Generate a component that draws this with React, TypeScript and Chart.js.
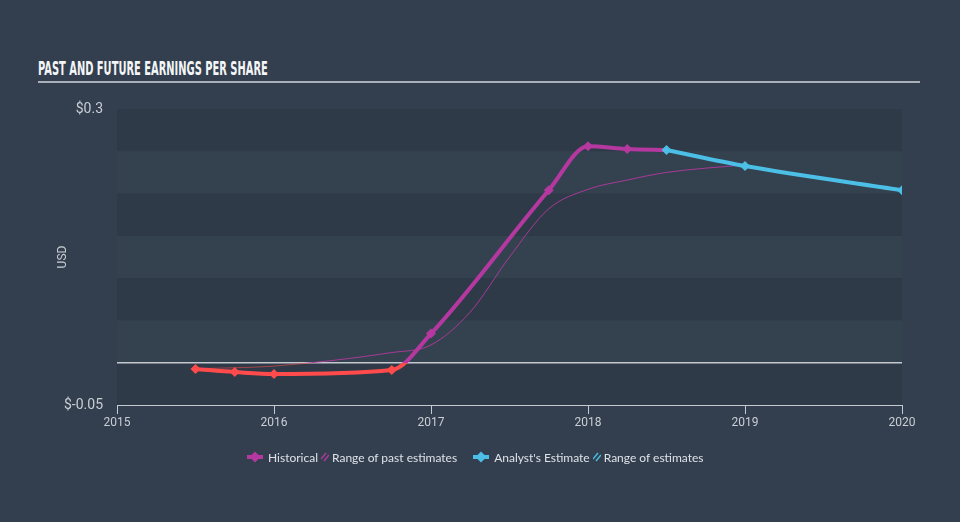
import React, { useEffect, useLayoutEffect, useRef } from 'react';
import { Chart, registerables } from 'chart.js';

Chart.register(...registerables);

// ---- data ----
const historicalX = [2015.5, 2015.75, 2016, 2016.75, 2017, 2017.75, 2018, 2018.25, 2018.5];
const historicalEPS = [-0.0075, -0.011, -0.0134, -0.0086, 0.0344, 0.204, 0.256, 0.2527, 0.2515];
const pastRangeX = [2015.5, 2015.75, 2016, 2016.75, 2017, 2017.25, 2017.5, 2017.75, 2018, 2018.25, 2018.5, 2019];
const pastRangeEPS = [-0.007, -0.006, -0.004, 0.012, 0.021, 0.06, 0.125, 0.182, 0.205, 0.216, 0.225, 0.234];
const estimateX = [2018.5, 2019, 2020];
const estimateEPS = [0.2515, 0.2325, 0.204];
const yearTicks = [2015, 2016, 2017, 2018, 2019, 2020];
const yTicks = [-0.05, 0, 0.05, 0.1, 0.15, 0.2, 0.25, 0.3];
const yMin = -0.05;
const yMax = 0.3;

// ---- styles ----
const PAGE_BG = '#333f4e';
const BAND_DARK = '#2e3a48';
const BAND_LIGHT = '#34414f';
const RED = '#ff4b4b';
const MAG = '#b4389f';
const MAG_THIN = 'rgba(180,56,159,0.9)';
const RED_THIN = 'rgba(255,75,75,0.55)';
const BLUE = '#4bbfe6';
const AXIS = '#c5cad1';
const TEXT = '#c9ced5';

function zeroGradient(chart: any, above: string, below: string) {
  const area = chart.chartArea;
  if (!area) return above;
  const y0 = chart.scales.y.getPixelForValue(0);
  const g = chart.ctx.createLinearGradient(0, area.top, 0, area.bottom);
  let stop = (y0 - area.top) / (area.bottom - area.top);
  stop = Math.max(0, Math.min(1, stop));
  g.addColorStop(0, above);
  g.addColorStop(stop, above);
  g.addColorStop(stop, below);
  g.addColorStop(1, below);
  return g;
}

const bandsPlugin = {
  id: 'bands',
  beforeDraw(chart: any) {
    const { ctx, chartArea, scales } = chart;
    if (!chartArea) return;
    const ys = scales.y;
    ctx.save();
    const sorted = [...yTicks].sort((a, b) => b - a);
    for (let i = 0; i < sorted.length - 1; i++) {
      const top = ys.getPixelForValue(sorted[i]);
      const bot = ys.getPixelForValue(sorted[i + 1]);
      ctx.fillStyle = i % 2 === 0 ? BAND_DARK : BAND_LIGHT;
      ctx.fillRect(chartArea.left, top, chartArea.right - chartArea.left, bot - top);
    }
    ctx.restore();
  },
};

function LineIcon({ color }: { color: string }) {
  return (
    <svg width="16" height="12" style={{ display: 'block', marginRight: 5 }}>
      <line x1="0" y1="6" x2="16" y2="6" stroke={color} strokeWidth="4" />
      <polygon points="8,0.5 13.5,6 8,11.5 2.5,6" fill={color} />
    </svg>
  );
}

function HatchIcon({ color }: { color: string }) {
  return (
    <svg width="8" height="10" style={{ display: 'block', margin: '0 3px' }}>
      <line x1="0" y1="7" x2="5" y2="1" stroke={color} strokeWidth="1.4" />
      <line x1="3" y1="9" x2="8" y2="3" stroke={color} strokeWidth="1.4" />
    </svg>
  );
}

export default function App() {
  const canvasRef = useRef<HTMLCanvasElement>(null);
  const titleRef = useRef<HTMLSpanElement>(null);

  useLayoutEffect(() => {
    const el = titleRef.current;
    if (!el) return;
    const w = el.offsetWidth;
    if (w > 0) el.style.transform = `scaleX(${230 / w})`;
  }, []);

  useEffect(() => {
    const canvas = canvasRef.current;
    if (!canvas) return;
    const lastHist = historicalX.length - 1;
    const chart = new Chart(canvas, {
      type: 'line',
      data: {
        datasets: [
          {
            label: "Analyst's Estimate",
            data: estimateX.map((x, i) => ({ x, y: estimateEPS[i] })),
            borderColor: BLUE,
            backgroundColor: BLUE,
            borderWidth: 4,
            pointStyle: 'rectRot',
            pointRadius: 5,
            pointBackgroundColor: BLUE,
            pointBorderWidth: 0,
            cubicInterpolationMode: 'monotone',
            order: 0,
          },
          {
            label: 'Historical',
            data: historicalX.map((x, i) => ({ x, y: historicalEPS[i] })),
            borderColor: (ctx: any) => zeroGradient(ctx.chart, MAG, RED),
            borderWidth: 4,
            pointStyle: 'rectRot',
            pointRadius: (ctx: any) => (ctx.dataIndex === lastHist ? 0 : 5),
            pointBackgroundColor: (ctx: any) => (ctx.raw && ctx.raw.y < 0 ? RED : MAG),
            pointBorderWidth: 0,
            cubicInterpolationMode: 'monotone',
            order: 1,
          },
          {
            label: 'Range of past estimates',
            data: pastRangeX.map((x, i) => ({ x, y: pastRangeEPS[i] })),
            borderColor: (ctx: any) => zeroGradient(ctx.chart, MAG_THIN, RED_THIN),
            borderWidth: 1,
            pointRadius: 0,
            cubicInterpolationMode: 'monotone',
            order: 2,
          },
        ],
      } as any,
      options: {
        animation: false,
        responsive: false,
        devicePixelRatio: 1,
        layout: { padding: { top: 109, right: 58, bottom: 87, left: 0 } },
        plugins: { legend: { display: false }, tooltip: { enabled: false } },
        scales: {
          x: {
            type: 'linear',
            min: 2015,
            max: 2020,
            afterBuildTicks: (s: any) => {
              s.ticks = yearTicks.map((v) => ({ value: v }));
            },
            ticks: {
              callback: (v: any) => String(v),
              color: TEXT,
              font: { family: 'Roboto', size: 12 },
              padding: 2,
              maxRotation: 0,
              autoSkip: false,
            },
            grid: { drawOnChartArea: false, drawTicks: true, tickLength: 9, color: AXIS, lineWidth: 1 },
            border: { display: true, color: AXIS, width: 1 },
            afterFit: (s: any) => {
              s.height = 30;
            },
          },
          y: {
            type: 'linear',
            min: yMin,
            max: yMax,
            afterBuildTicks: (s: any) => {
              s.ticks = yTicks.map((v) => ({ value: v }));
            },
            ticks: {
              callback: (v: any) => (v === yMax || v === yMin ? '$' + v : ''),
              color: TEXT,
              font: { family: 'Roboto', size: 14 },
              padding: 14,
              autoSkip: false,
            },
            grid: {
              drawTicks: false,
              color: (ctx: any) => (ctx.tick && ctx.tick.value === 0 ? '#c3c8cf' : 'rgba(0,0,0,0)'),
              lineWidth: 1.5,
            },
            border: { display: false },
            title: {
              display: true,
              text: 'USD',
              color: TEXT,
              font: { family: 'Roboto', size: 12 },
              padding: { top: 56, bottom: 0 },
            },
            afterFit: (s: any) => {
              s.width = 117;
            },
          },
        },
      } as any,
      plugins: [bandsPlugin],
    });
    return () => chart.destroy();
  }, []);

  const legendText: React.CSSProperties = {
    color: '#dde2e8',
    fontFamily: 'Lato, "Open Sans", sans-serif',
    fontSize: 12,
    whiteSpace: 'nowrap',
  };

  return (
    <div
      style={{
        position: 'absolute',
        left: 0,
        top: 0,
        width: 960,
        height: 522,
        background: PAGE_BG,
        overflow: 'hidden',
      }}
    >
      <div
        style={{
          position: 'absolute',
          left: 38,
          top: 58,
          height: 20,
          lineHeight: '20px',
          whiteSpace: 'nowrap',
        }}
      >
        <span
          ref={titleRef}
          style={{
            display: 'inline-block',
            transformOrigin: 'left center',
            fontFamily: '"Liberation Sans Narrow", "DejaVu Sans Condensed", sans-serif',
            fontWeight: 700,
            fontSize: 20,
            color: '#f3f5f7',
          }}
        >
          PAST AND FUTURE EARNINGS PER SHARE
        </span>
      </div>
      <div style={{ position: 'absolute', left: 38, top: 81, width: 882, height: 1.5, background: '#a9b0b9' }} />
      <canvas
        ref={canvasRef}
        width={960}
        height={522}
        style={{ position: 'absolute', left: 0, top: 0, width: 960, height: 522, display: 'block' }}
      />
      <div
        style={{
          position: 'absolute',
          left: 247,
          top: 449,
          height: 16,
          display: 'flex',
          alignItems: 'center',
        }}
      >
        <LineIcon color={MAG} />
        <span style={legendText}>Historical</span>
        <HatchIcon color={MAG} />
        <span style={legendText}>Range of past estimates</span>
        <span style={{ display: 'inline-block', width: 16 }} />
        <LineIcon color={BLUE} />
        <span style={legendText}>Analyst's Estimate</span>
        <HatchIcon color={BLUE} />
        <span style={legendText}>Range of estimates</span>
      </div>
    </div>
  );
}
